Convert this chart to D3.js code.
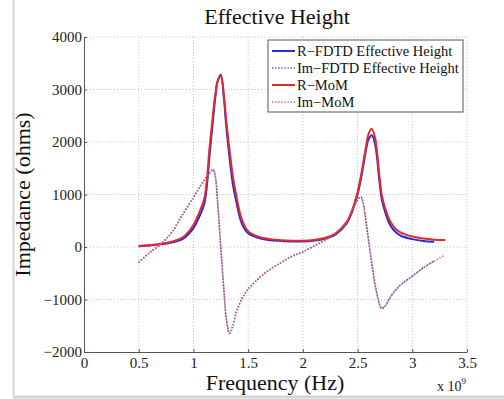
<!DOCTYPE html>
<html>
<head>
<meta charset="utf-8">
<script src="https://cdn.jsdelivr.net/npm/d3@7"></script>
<style>
  body { margin: 0; background: #fff; }
  svg { display: block; font-family: "Liberation Serif", "DejaVu Serif", serif; }
  .grid line { stroke: #c4c4c4; stroke-dasharray: 1,2; }
  .axis path, .axis line { stroke: #555; }
</style>
</head>
<body>
<div class="chart"></div>
<script>
// frequency in units of 1e9 Hz
var freq = [0.5, 0.6, 0.7, 0.8, 0.9, 1.0, 1.05, 1.1, 1.15, 1.18, 1.2, 1.22, 1.25, 1.28, 1.3, 1.33, 1.36, 1.39, 1.44, 1.5,
            1.6, 1.7, 1.8, 1.9, 2.0, 2.1, 2.2, 2.3, 2.4, 2.45, 2.5, 2.53, 2.55, 2.58, 2.6, 2.63, 2.66, 2.7, 2.72, 2.75,
            2.8, 2.85, 2.9, 3.0, 3.1, 3.2, 3.3];

var reFDTD = [15, 30, 50, 85, 150, 360, 560, 830, 1800, 2450, 2850, 3150, 3280, 2800, 2300, 1700, 1200, 880, 460, 260,
              170, 130, 115, 105, 105, 120, 155, 240, 450, 670, 1000, 1290, 1520, 1880, 2050, 2130, 1960, 1250, 920, 680,
              410, 280, 210, 150, 115, 100];
var imFDTD = [-290, -110, 50, 270, 610, 940, 1110, 1270, 1410, 1470, 1340, 880, -20, -870, -1360, -1650, -1510, -1260, -1000, -805,
              -595, -430, -300, -180, -95, 15, 125, 265, 470, 690, 890, 950, 840, 440, 130, -320, -720, -1090, -1170, -1125,
              -950, -815, -705, -555, -395, -265];
var reMoM  = [20, 35, 60, 100, 180, 420, 640, 930, 1950, 2550, 2900, 3150, 3250, 2850, 2400, 1850, 1350, 1000, 540, 300,
              190, 150, 130, 120, 120, 135, 170, 260, 480, 700, 1050, 1350, 1580, 1950, 2150, 2250, 2080, 1350, 1000, 750,
              480, 340, 270, 200, 160, 140, 135];
var imMoM  = [-300, -100, 60, 280, 620, 950, 1120, 1280, 1420, 1480, 1350, 900, 0, -850, -1350, -1640, -1500, -1250, -1000, -800,
              -590, -425, -295, -175, -90, 20, 130, 270, 480, 700, 900, 960, 850, 450, 150, -300, -700, -1080, -1170, -1130,
              -960, -820, -710, -560, -400, -270, -150];

var xTicks = [0, 0.5, 1, 1.5, 2, 2.5, 3, 3.5];
var yTicks = [-2000, -1000, 0, 1000, 2000, 3000, 4000];

var seriesNames = ["R\u2212FDTD Effective Height", "Im\u2212FDTD Effective Height", "R\u2212MoM", "Im\u2212MoM"];

(function(){
    var W = 504, H = 399;
    var margin = {top: 37, right: 37, bottom: 47, left: 84};
    var width = W - margin.left - margin.right;
    var height = H - margin.top - margin.bottom;
    var serif = "Liberation Serif, DejaVu Serif, serif";

    var svg = d3.select(".chart").append("svg")
        .attr("width", W)
        .attr("height", H);

    // picture frame
    svg.append("line").attr("x1", 13.5).attr("x2", 13.5).attr("y1", 0).attr("y2", 396)
        .attr("stroke", "#d4d4d4").attr("stroke-width", 2);
    svg.append("line").attr("x1", 13).attr("x2", W).attr("y1", 397).attr("y2", 397)
        .attr("stroke", "#d4d4d4").attr("stroke-width", 3);

    var x = d3.scaleLinear().domain([0, 3.5]).range([0, width]);
    var y = d3.scaleLinear().domain([-2000, 4000]).range([height, 0]);

    var g = svg.append("g")
        .attr("transform", "translate(" + margin.left + "," + margin.top + ")");

    // dotted grid
    var grid = g.append("g").attr("class", "grid");
    grid.selectAll(".gx").data(xTicks.slice(1)).enter().append("line")
        .attr("x1", function(d){ return x(d); }).attr("x2", function(d){ return x(d); })
        .attr("y1", 0).attr("y2", height);
    grid.selectAll(".gy").data(yTicks.slice(1)).enter().append("line")
        .attr("x1", 0).attr("x2", width)
        .attr("y1", function(d){ return y(d); }).attr("y2", function(d){ return y(d); });

    // series
    var line = d3.line()
        .x(function(d){ return x(d[0]); })
        .y(function(d){ return y(d[1]); })
        .curve(d3.curveCatmullRom.alpha(0.5));

    function pairs(vals){ return vals.map(function(v, i){ return [freq[i], v]; }); }

    var series = [
        {name: seriesNames[0], values: reFDTD, color: "#2b2bd0", dash: null, w: 2},
        {name: seriesNames[1], values: imFDTD, color: "#5a4fb8", dash: "1.3,1.8", w: 1.6},
        {name: seriesNames[2], values: reMoM, color: "#e0282e", dash: null, w: 2},
        {name: seriesNames[3], values: imMoM, color: "#c8607a", dash: "1.3,1.8", w: 1.6}
    ];

    g.selectAll(".series").data(series).enter().append("path")
        .attr("class", "series")
        .attr("fill", "none")
        .attr("stroke", function(d){ return d.color; })
        .attr("stroke-width", function(d){ return d.w; })
        .attr("stroke-dasharray", function(d){ return d.dash; })
        .attr("d", function(d){ return line(pairs(d.values)); });

    // axes (ticks inside, MATLAB style)
    g.append("g")
        .attr("class", "axis x-axis")
        .attr("transform", "translate(0," + height + ")")
        .call(d3.axisBottom(x).tickValues(xTicks).tickSizeInner(-3).tickSizeOuter(0).tickPadding(5)
              .tickFormat(function(d){ return d; }))
        .attr("font-family", serif).attr("font-size", 15)
        .selectAll("text").attr("fill", "#222");

    g.append("g")
        .attr("class", "axis y-axis")
        .call(d3.axisLeft(y).tickValues(yTicks).tickSizeInner(-3).tickSizeOuter(0).tickPadding(2)
              .tickFormat(function(d){ return d < 0 ? "\u2212" + Math.abs(d) : d; }))
        .attr("font-family", serif).attr("font-size", 15)
        .selectAll("text").attr("fill", "#222");

    // titles
    svg.append("text")
        .attr("x", 277).attr("y", 24)
        .attr("text-anchor", "middle")
        .attr("font-size", 22)
        .attr("fill", "#111")
        .text("Effective Height");

    svg.append("text")
        .attr("x", 275).attr("y", 390)
        .attr("text-anchor", "middle")
        .attr("font-size", 22)
        .attr("fill", "#111")
        .text("Frequency (Hz)");

    svg.append("text")
        .attr("transform", "translate(30," + (margin.top + height / 2) + ") rotate(-90)")
        .attr("text-anchor", "middle")
        .attr("font-size", 22)
        .attr("fill", "#111")
        .text("Impedance (ohms)");

    var mult = svg.append("text")
        .attr("x", 437).attr("y", 391)
        .attr("font-size", 14)
        .attr("fill", "#222");
    mult.append("tspan").text("x 10");
    mult.append("tspan").attr("dy", -7).attr("font-size", 9).text("9");

    // legend
    var legend = svg.append("g").attr("transform", "translate(268,40)");
    legend.append("rect")
        .attr("width", 195).attr("height", 72)
        .attr("fill", "#fff").attr("stroke", "#555");
    var item = legend.selectAll(".item").data(series).enter().append("g")
        .attr("transform", function(d, i){ return "translate(0," + (11 + i * 17) + ")"; });
    item.append("line")
        .attr("x1", 4).attr("x2", 27).attr("y1", 0).attr("y2", 0)
        .attr("stroke", function(d){ return d.color; })
        .attr("stroke-width", function(d){ return d.w; })
        .attr("stroke-dasharray", function(d){ return d.dash; });
    item.append("text")
        .attr("x", 29).attr("y", 5)
        .attr("font-size", 14.5)
        .attr("fill", "#111")
        .text(function(d){ return d.name; });
}());
</script>
</body>
</html>
